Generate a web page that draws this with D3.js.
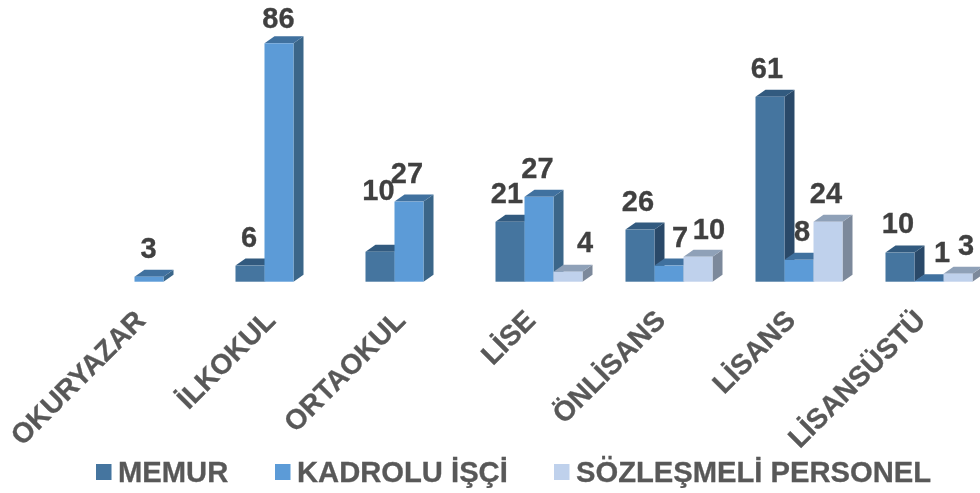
<!DOCTYPE html>
<html><head><meta charset="utf-8">
<script src="https://cdn.jsdelivr.net/npm/d3@7"></script>
<style>html,body{margin:0;padding:0;background:#fff;overflow:hidden}svg{display:block}text{font-family:"Liberation Sans",Arial,sans-serif;font-weight:bold}</style>
</head><body><svg id="c" width="980" height="493"></svg>
<script>
const categories = ["OKURYAZAR","İLKOKUL","ORTAOKUL","LİSE","ÖNLİSANS","LİSANS","LİSANSÜSTÜ"];
const seriesNames = ["MEMUR","KADROLU İŞÇİ","SÖZLEŞMELİ PERSONEL"];
// bar heights (the drawn bars do not follow the printed labels exactly)
const memurHeights   = [null, 5.8, 10.8, 21.6, 18.8, 66.7, 10.5];
const kadroluHeights = [1.8, 86, 28.9, 30.6, 5.8, 7.9, 0.2];
const sozlesmeHeights= [null, null, null, 3.6, 9, 21.6, 2.9];
// printed data labels
const memurLabels    = [null, 6, 10, 21, 26, 61, 10];
const kadroluLabels  = [3, 86, 27, 27, 7, 8, 1];
const sozlesmeLabels = [null, null, null, 4, 10, 24, 3];
// manual label placement (layout only): [dx, extra lift]
const memurNudge    = [null,[-0.5,0],[-1,33],[-2.5,0],[-1.5,0],[-2.5,0],[-1.5,1]];
const kadroluNudge  = [[0,0],[0,-4],[-1.5,0],[-1,0],[11.5,0],[3.5,0],[13.5,0]];
const sozlesmeNudge = [null,null,null,[17.5,1],[11.5,-1],[-1.5,0],[8.5,0]];

const heights=[memurHeights,kadroluHeights,sozlesmeHeights];
const labels=[memurLabels,kadroluLabels,sozlesmeLabels];
const nudges=[memurNudge,kadroluNudge,sozlesmeNudge];
const palette=[
 {front:"#44749f",top:"#315a7f",side:"#2c4a69"},
 {front:"#5b9bd7",top:"#41719f",side:"#3a6689"},
 {front:"#bfd1ec",top:"#8fa1b8",side:"#7c899b"}];
const depthX=10, depthY=7, base=281.7;

const svg=d3.select("#c");
const flt=svg.append("defs").append("filter").attr("id","soft")
  .attr("x",0).attr("y",0).attr("width",980).attr("height",493).attr("filterUnits","userSpaceOnUse");
flt.append("feGaussianBlur").attr("stdDeviation",0.45);
const root=svg.append("g").attr("filter","url(#soft)");
const x0=d3.scaleBand().domain(categories).range([84,994]);
const x1=d3.scaleBand().domain(seriesNames).range([21.5,108.5]);
const y=d3.scaleLinear().domain([0,86]).range([base,43.3]);

const g=root.append("g");
categories.forEach((c,ci)=>{
  seriesNames.forEach((s,si)=>{
    const v=heights[si][ci];
    if(v==null) return;
    const X=x0(c)+x1(s), W=x1.bandwidth(), T=y(v), col=palette[si];
    const m=g.append("g");
    m.append("path").attr("fill",col.side)
      .attr("d",d3.line()([[X+W,T],[X+W+depthX,T-depthY],[X+W+depthX,base-depthY],[X+W,base]])+"Z");
    m.append("path").attr("fill",col.top)
      .attr("d",d3.line()([[X,T],[X+depthX,T-depthY],[X+W+depthX,T-depthY],[X+W,T]])+"Z");
    m.append("rect").attr("x",X).attr("y",T).attr("width",W).attr("height",Math.max(base-T,0.5))
      .attr("fill",col.front);
  });
});
// data labels on top of all bars
categories.forEach((c,ci)=>{
  seriesNames.forEach((s,si)=>{
    const l=labels[si][ci];
    if(l==null) return;
    const n=nudges[si][ci];
    root.append("text").attr("x",x0(c)+x1(s)+x1.bandwidth()/2+n[0]-0.5)
      .attr("y",y(heights[si][ci])-19-n[1])
      .attr("text-anchor","middle").attr("font-size",29).attr("fill","#404040")
      .attr("stroke","#404040").attr("stroke-width",0.3).text(l);
  });
});
// category labels
categories.forEach(c=>{
  const px=x0(c)+x0.bandwidth()/2-2, py=322;
  root.append("text").attr("transform",`translate(${px},${py}) rotate(-45)`)
    .attr("text-anchor","end").attr("font-size",28.2).attr("fill","#595959")
    .attr("stroke","#595959").attr("stroke-width",0.3).text(c);
});
// legend
const legendX=[96,275,554];
seriesNames.forEach((s,i)=>{
  root.append("rect").attr("x",legendX[i]).attr("y",464).attr("width",15.5).attr("height",16).attr("fill",palette[i].front);
  root.append("text").attr("x",legendX[i]+22).attr("y",481.5).attr("font-size",29.2).attr("fill","#595959")
    .attr("stroke","#595959").attr("stroke-width",0.3).text(s);
});
</script></body></html>
